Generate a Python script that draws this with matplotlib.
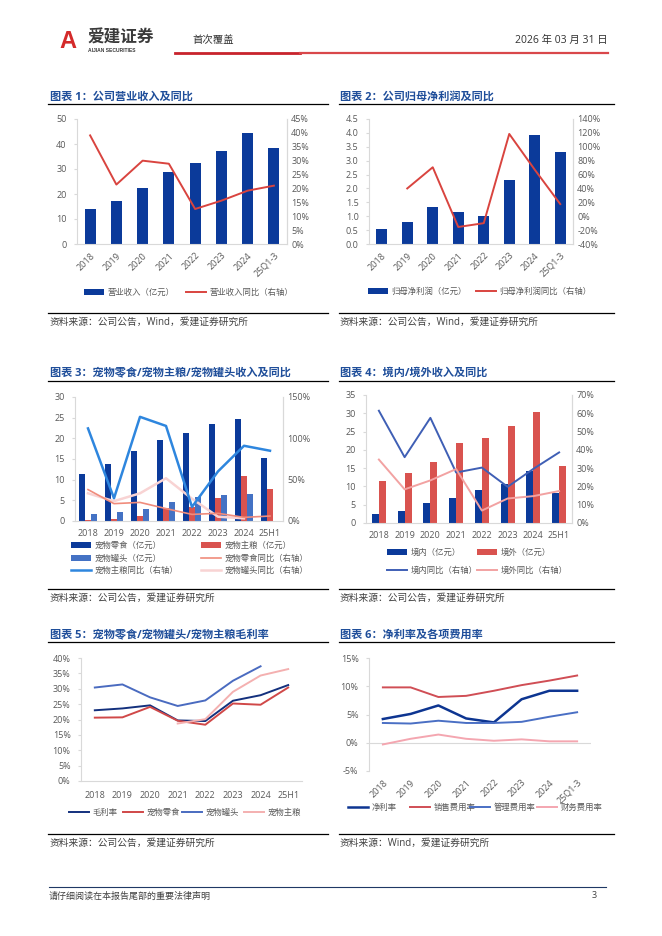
import matplotlib
matplotlib.use('Agg')
import matplotlib.pyplot as plt
import numpy as np
from matplotlib.ticker import FuncFormatter, MultipleLocator
from matplotlib.lines import Line2D

plt.rcParams['font.family'] = ['Open Sans', 'Noto Sans CJK SC', 'DejaVu Sans']

W, H = 662, 936
nan = np.nan

# ---------------- data ----------------
years_q = ['2018', '2019', '2020', '2021', '2022', '2023', '2024', '25Q1-3']
years_h = ['2018', '2019', '2020', '2021', '2022', '2023', '2024', '25H1']

rev = [14.1, 17.1, 22.5, 28.8, 32.5, 37.4, 44.6, 38.4]
rev_yoy = [39.1, 21.4, 30.0, 28.9, 12.6, 15.6, 19.2, 21.0]

net_profit = [0.55, 0.78, 1.33, 1.14, 1.02, 2.31, 3.93, 3.31]
net_profit_yoy = [nan, 40.0, 70.5, -15.5, -10.0, 118.5, 67.0, 17.5]

snack = [11.4, 13.8, 17.0, 19.7, 21.3, 23.4, 24.6, 15.2]
staple = [0.3, 0.5, 1.3, 3.1, 3.5, 5.6, 10.9, 7.7]
can = [1.7, 2.2, 2.9, 4.6, 5.9, 6.3, 6.5, nan]
staple_yoy = [112.0, 27.5, 126.0, 115.0, 17.0, 60.0, 91.0, 85.0]
snack_yoy = [38.0, 21.0, 22.5, 15.0, 8.0, 9.3, 4.4, 6.0]
can_yoy = [33.5, 24.0, 33.5, 51.7, 27.0, 5.2, 3.2, nan]

domestic = [2.4, 3.4, 5.4, 6.8, 8.9, 10.6, 14.1, 8.3]
overseas = [11.5, 13.6, 16.8, 21.8, 23.3, 26.4, 30.4, 15.6]
domestic_yoy = [61.4, 36.0, 57.5, 27.6, 30.3, 19.8, 29.6, 38.6]
overseas_yoy = [34.7, 18.4, 23.3, 29.5, 6.8, 13.4, 14.7, 17.5]

gm_total = [23.0, 23.6, 24.6, 19.7, 19.5, 26.1, 27.9, 31.2]
gm_snack = [20.6, 20.7, 24.1, 19.6, 18.3, 25.2, 24.8, 30.4]
gm_can = [30.4, 31.4, 27.2, 24.4, 26.2, 32.6, 37.3, nan]
gm_staple = [nan, nan, nan, 18.7, 20.1, 29.0, 34.3, 36.4]

net_margin = [4.2, 5.1, 6.6, 4.3, 3.6, 7.7, 9.2, 9.2]
sell_rate = [9.8, 9.8, 8.1, 8.3, 9.2, 10.2, 11.0, 11.9]
admin_rate = [3.5, 3.4, 3.9, 3.5, 3.5, 3.7, 4.6, 5.4]
fin_rate = [-0.3, 0.7, 1.45, 0.7, 0.35, 0.6, 0.25, 0.25]

# ---------------- colours ----------------
NAVY = '#0B3A9A'
RED = '#D9443F'
BARRED = '#D9534F'
MIDBLUE = '#4472C4'
TITLE = '#1F4E9A'
GRAY = '#595959'
AXC = '#D9D9D9'

fig = plt.figure(figsize=(W / 100, H / 100), dpi=100)


def fx(x):
    return x / W


def fy(y):
    return 1 - y / H


def ax_at(l, t, r, b):
    return fig.add_axes([fx(l), fy(b), (r - l) / W, (b - t) / H])


def hline(x0, x1, y, color='black', lw=0.9):
    fig.add_artist(Line2D([fx(x0), fx(x1)], [fy(y), fy(y)], color=color, lw=lw,
                          transform=fig.transFigure))


def txt(x, y, s, **kw):
    kw.setdefault('va', 'center')
    fig.text(fx(x), fy(y), s, **kw)


def style(ax, twin=None, bottom=True, xpad=4):
    ax.spines['top'].set_visible(False)
    for s in ['left', 'right', 'bottom']:
        ax.spines[s].set_color(AXC)
        ax.spines[s].set_linewidth(0.8)
    ax.spines['right'].set_visible(twin is not None)
    ax.spines['bottom'].set_visible(bottom)
    ax.tick_params(axis='y', labelsize=6.5, labelcolor=GRAY, length=2.5, color=AXC, width=0.8, pad=5)
    ax.tick_params(axis='x', labelsize=6.5, labelcolor=GRAY, length=0, pad=xpad)
    if twin is not None:
        for s in ['top', 'left', 'bottom']:
            twin.spines[s].set_visible(False)
        twin.spines['right'].set_color(AXC)
        twin.spines['right'].set_linewidth(0.8)
        twin.tick_params(axis='y', labelsize=6.5, labelcolor=GRAY, length=0, pad=3)


def leg(handle, label, x, y, hl=2.4):
    fig.legend([handle], [label], loc='center left', bbox_to_anchor=(fx(x), fy(y)),
               frameon=False, borderpad=0, borderaxespad=0, handlelength=hl,
               handletextpad=0.4, fontsize=6, labelcolor=GRAY)


pct0 = FuncFormatter(lambda v, p: f'{v:.0f}%')

# ---------------- header / footer ----------------
txt(59, 41, 'A', fontsize=17, fontweight='bold', color='#D42A2A', family='Liberation Sans')
txt(87, 38, '爱建证券', fontsize=12, fontweight='bold', color='#3A3A3A', family='Noto Sans CJK SC')
txt(88, 50, 'AIJIAN SECURITIES', fontsize=3.6, fontweight='bold', color='#3A3A3A', family='Liberation Sans')
txt(192, 40, '首次覆盖', fontsize=7.5, color='#333333')
txt(608, 40, '2026 年 03 月 31 日', fontsize=7.5, color='#333333', ha='right')
hline(175, 300, 53, color='#C8232C', lw=2.0)
hline(300, 608, 53, color='#D9474A', lw=1.6)
hline(49, 606, 887, color='#1F3864', lw=0.8)
txt(49, 896, '请仔细阅读在本报告尾部的重要法律声明', fontsize=6.5, color='#404040')
txt(592, 896, '3', fontsize=6.5, color='#404040')

# titles / sources
titles = [(50, 97, '图表 1：公司营业收入及同比'), (340, 97, '图表 2：公司归母净利润及同比'),
          (50, 373, '图表 3：宠物零食/宠物主粮/宠物罐头收入及同比'), (340, 373, '图表 4：境内/境外收入及同比'),
          (50, 635, '图表 5：宠物零食/宠物罐头/宠物主粮毛利率'), (340, 635, '图表 6：净利率及各项费用率')]
for x, y, s in titles:
    txt(x, y, s, fontsize=8, fontweight='bold', color=TITLE)
for x0, x1, y in [(48, 328, 104), (339, 614, 104), (48, 328, 381), (339, 614, 381), (48, 328, 642), (339, 614, 642)]:
    hline(x0, x1, y)
for x0, x1, y in [(48, 328, 313), (339, 614, 313), (48, 328, 589), (339, 614, 589), (48, 328, 834), (339, 614, 834)]:
    hline(x0, x1, y)
src1 = '资料来源：公司公告，Wind，爱建证券研究所'
src2 = '资料来源：公司公告，爱建证券研究所'
for x, y, s in [(50, 322, src1), (340, 322, src1), (50, 598, src2), (340, 598, src2),
                (50, 843, src2), (340, 843, '资料来源：Wind，爱建证券研究所')]:
    txt(x, y, s, fontsize=7, color='#404040')

x = np.arange(8)

# ---------------- chart 1 ----------------
ax1 = ax_at(77, 119, 287, 244)
b1 = ax1.bar(x, rev, width=0.41, color=NAVY)
ax1.set_ylim(0, 50)
ax1.yaxis.set_major_locator(MultipleLocator(10))
ax1.set_xlim(-0.5, 7.5)
ax1.set_xticks(x)
ax1.set_xticklabels(years_q, rotation=45, ha='right', rotation_mode='anchor')
t1 = ax1.twinx()
l1, = t1.plot(x, rev_yoy, color=RED, lw=1.4)
t1.set_ylim(0, 45)
t1.yaxis.set_major_locator(MultipleLocator(5))
t1.yaxis.set_major_formatter(pct0)
style(ax1, t1, xpad=5)
leg(b1, '营业收入（亿元）', 84, 293)
leg(l1, '营业收入同比（右轴）', 186, 293)

# ---------------- chart 2 ----------------
ax2 = ax_at(369, 119, 573, 244)
b2 = ax2.bar(x, net_profit, width=0.42, color=NAVY)
ax2.set_ylim(0, 4.5)
ax2.yaxis.set_major_locator(MultipleLocator(0.5))
ax2.yaxis.set_major_formatter(FuncFormatter(lambda v, p: f'{v:.1f}'))
ax2.set_xlim(-0.5, 7.5)
ax2.set_xticks(x)
ax2.set_xticklabels(years_q, rotation=45, ha='right', rotation_mode='anchor')
t2 = ax2.twinx()
l2, = t2.plot(x, net_profit_yoy, color=RED, lw=1.4)
t2.set_ylim(-40, 140)
t2.yaxis.set_major_locator(MultipleLocator(20))
t2.yaxis.set_major_formatter(pct0)
style(ax2, t2, xpad=5)
leg(b2, '归母净利润（亿元）', 368, 292)
leg(l2, '归母净利润同比（右轴）', 476, 292)

# ---------------- chart 3 ----------------
ax3 = ax_at(75, 397, 283, 521)
w3 = 0.22
b3a = ax3.bar(x - w3, snack, width=w3, color=NAVY)
b3b = ax3.bar(x, staple, width=w3, color=BARRED)
b3c = ax3.bar(x + w3, can, width=w3, color=MIDBLUE)
ax3.set_ylim(0, 30)
ax3.yaxis.set_major_locator(MultipleLocator(5))
ax3.set_xlim(-0.5, 7.5)
ax3.set_xticks(x)
ax3.set_xticklabels(years_h)
t3 = ax3.twinx()
l3c, = t3.plot(x, can_yoy, color='#F8D3D3', lw=1.8)
l3b, = t3.plot(x, snack_yoy, color='#F08C7C', lw=1.2)
l3a, = t3.plot(x, staple_yoy, color='#2E86DE', lw=1.8)
t3.set_ylim(0, 150)
t3.yaxis.set_major_locator(MultipleLocator(50))
t3.yaxis.set_major_formatter(pct0)
style(ax3, t3, xpad=6)
leg(b3a, '宠物零食（亿元）', 71, 546)
leg(b3b, '宠物主粮（亿元）', 201, 546)
leg(b3c, '宠物罐头（亿元）', 71, 559)
leg(l3b, '宠物零食同比（右轴）', 201, 559)
leg(l3a, '宠物主粮同比（右轴）', 71, 571)
leg(l3c, '宠物罐头同比（右轴）', 201, 571)

# ---------------- chart 4 ----------------
ax4 = ax_at(366, 395, 572, 523)
w4 = 0.27
b4a = ax4.bar(x - w4 / 2, domestic, width=w4, color=NAVY)
b4b = ax4.bar(x + w4 / 2, overseas, width=w4, color=BARRED)
ax4.set_ylim(0, 35)
ax4.yaxis.set_major_locator(MultipleLocator(5))
ax4.set_xlim(-0.5, 7.5)
ax4.set_xticks(x)
ax4.set_xticklabels(years_h)
t4 = ax4.twinx()
l4a, = t4.plot(x, domestic_yoy, color='#3F5FB5', lw=1.4)
l4b, = t4.plot(x, overseas_yoy, color='#F2A2A2', lw=1.4)
t4.set_ylim(0, 70)
t4.yaxis.set_major_locator(MultipleLocator(10))
t4.yaxis.set_major_formatter(pct0)
style(ax4, t4, xpad=6)
leg(b4a, '境内（亿元）', 387, 553)
leg(b4b, '境外（亿元）', 477, 553)
leg(l4a, '境内同比（右轴）', 387, 571)
leg(l4b, '境外同比（右轴）', 477, 571)

# ---------------- chart 5 ----------------
ax5 = ax_at(81, 658, 302, 781)
l5a, = ax5.plot(x, gm_total, color='#13307D', lw=1.4)
l5b, = ax5.plot(x, gm_snack, color='#D04848', lw=1.4)
l5c, = ax5.plot(x, gm_can, color='#4A6BC0', lw=1.4)
l5d, = ax5.plot(x, gm_staple, color='#F4B0B0', lw=1.4)
ax5.set_ylim(0, 40)
ax5.yaxis.set_major_locator(MultipleLocator(5))
ax5.yaxis.set_major_formatter(pct0)
ax5.set_xlim(-0.5, 7.5)
ax5.set_xticks(x)
ax5.set_xticklabels(years_h)
style(ax5, xpad=7)
leg(l5a, '毛利率', 69, 813)
leg(l5b, '宠物零食', 123, 813)
leg(l5c, '宠物罐头', 182, 813)
leg(l5d, '宠物主粮', 244, 813)

# ---------------- chart 6 ----------------
ax6 = ax_at(369, 658, 591, 771)
ax6.axhline(0, color=AXC, lw=0.8)
l6a, = ax6.plot(x, net_margin, color='#0D3591', lw=1.8)
l6b, = ax6.plot(x, sell_rate, color='#D04E55', lw=1.4)
l6c, = ax6.plot(x, admin_rate, color='#4A6FC4', lw=1.4)
l6d, = ax6.plot(x, fin_rate, color='#F4A6B0', lw=1.4)
ax6.set_ylim(-5, 15)
ax6.yaxis.set_major_locator(MultipleLocator(5))
ax6.yaxis.set_major_formatter(pct0)
ax6.set_xlim(-0.5, 7.5)
ax6.set_xticks(x)
ax6.set_xticklabels(years_q, rotation=45, ha='right', rotation_mode='anchor')
style(ax6, bottom=False, xpad=5)
leg(l6a, '净利率', 348, 808)
leg(l6b, '销售费用率', 410, 808)
leg(l6c, '管理费用率', 470, 808)
leg(l6d, '财务费用率', 537, 808)

fig.savefig('out.png', dpi=100)
